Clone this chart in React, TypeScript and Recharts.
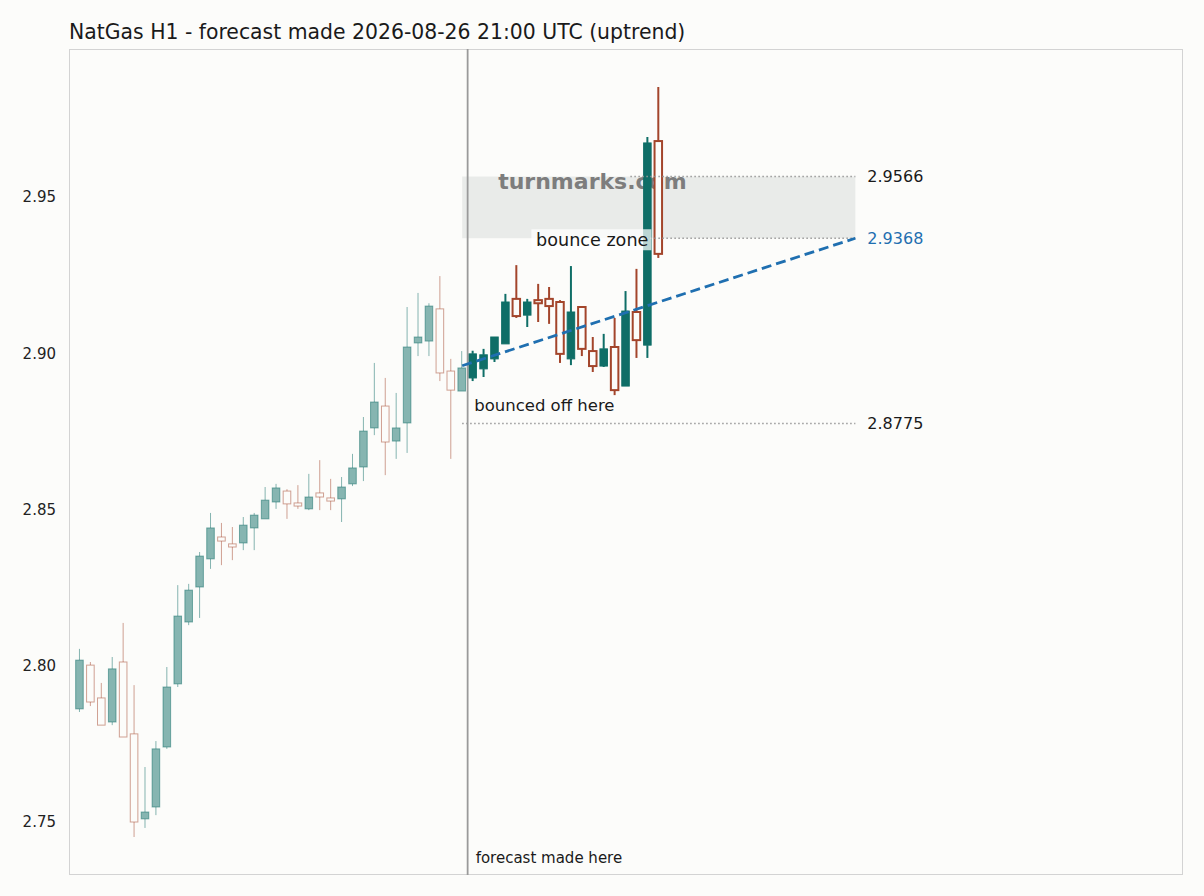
import React from 'react';
import { ComposedChart, Bar, Line, XAxis, YAxis, ReferenceLine, ReferenceArea, LabelList } from 'recharts';

// hourly candles, index 0..35 = history, 36..53 = forecast
const pastOpen = [2.7862, 2.8002, 2.7897, 2.782, 2.8012, 2.7782, 2.751, 2.7548, 2.774, 2.7942, 2.814, 2.8252, 2.8342, 2.8412, 2.839, 2.8393, 2.8441, 2.847, 2.8524, 2.8559, 2.8521, 2.8502, 2.8553, 2.8537, 2.8534, 2.8582, 2.8636, 2.8761, 2.8831, 2.8719, 2.8777, 2.9033, 2.9039, 2.9142, 2.8943, 2.8879];
const pastHigh = [2.8054, 2.8012, 2.7945, 2.8028, 2.8137, 2.7938, 2.7676, 2.7759, 2.7996, 2.8258, 2.8262, 2.8364, 2.8489, 2.8457, 2.8444, 2.8476, 2.8489, 2.8572, 2.8582, 2.8565, 2.8578, 2.8614, 2.8658, 2.8598, 2.8604, 2.8678, 2.8796, 2.8969, 2.8921, 2.8873, 2.9148, 2.9193, 2.916, 2.9247, 2.8982, 2.9007];
const pastLow = [2.7852, 2.7871, 2.781, 2.781, 2.7772, 2.7452, 2.7481, 2.7522, 2.7734, 2.7932, 2.813, 2.8153, 2.831, 2.8322, 2.8338, 2.837, 2.837, 2.847, 2.8502, 2.847, 2.8502, 2.8498, 2.8498, 2.8498, 2.846, 2.8575, 2.8591, 2.8738, 2.861, 2.8662, 2.8681, 2.8991, 2.8991, 2.8911, 2.8662, 2.8879];
const pastClose = [2.8018, 2.7884, 2.781, 2.799, 2.7772, 2.75, 2.7532, 2.7734, 2.7932, 2.8159, 2.8242, 2.8351, 2.8441, 2.8399, 2.838, 2.845, 2.8482, 2.853, 2.8569, 2.8518, 2.8511, 2.854, 2.854, 2.8527, 2.8572, 2.8633, 2.8751, 2.8844, 2.8716, 2.8761, 2.902, 2.9052, 2.9151, 2.8937, 2.8882, 2.8953];

const fcOpen = [2.8921, 2.895, 2.8982, 2.903, 2.9174, 2.9122, 2.917, 2.9174, 2.9164, 2.8982, 2.9148, 2.9007, 2.8959, 2.902, 2.8895, 2.9132, 2.9026, 2.9679];
const fcHigh = [2.9008, 2.9014, 2.9052, 2.919, 2.9282, 2.9174, 2.9222, 2.9212, 2.917, 2.9279, 2.9148, 2.9052, 2.9062, 2.9113, 2.9199, 2.927, 2.9692, 2.9852];
const fcLow = [2.8911, 2.8924, 2.8972, 2.903, 2.9113, 2.9084, 2.91, 2.9094, 2.8969, 2.8962, 2.8991, 2.894, 2.8956, 2.8866, 2.8895, 2.8985, 2.8985, 2.9305];
const fcClose = [2.8998, 2.8995, 2.9052, 2.9164, 2.9119, 2.9164, 2.916, 2.9151, 2.8998, 2.9132, 2.9014, 2.8959, 2.9014, 2.8882, 2.9135, 2.9042, 2.9673, 2.9318];

const forecastAt = 35.5;
const trendX = [35, 71];
const trendY = [2.896, 2.9368];
const zoneLow = 2.9368;
const zoneHigh = 2.9566;
const bounceLevel = 2.8775;
const breakoutIdx = 52; // candle the "bounce zone" tag is pinned to
const yTicks = [2.75, 2.8, 2.85, 2.9, 2.95];

const GREEN = '#0f6e67';
const RED = '#a3452b';
const BG = '#fcfcfa';
const FONT = '"DejaVu Sans", sans-serif';

const candles = [
  ...pastOpen.map((o, i) => ({ idx: i, open: o, high: pastHigh[i], low: pastLow[i], close: pastClose[i], fc: false })),
  ...fcOpen.map((o, i) => ({ idx: pastOpen.length + i, open: o, high: fcHigh[i], low: fcLow[i], close: fcClose[i], fc: true })),
].map((c) => ({ ...c, range: [c.low, c.high] }));

const trend = trendX.map((x, i) => ({ idx: x, value: trendY[i] }));

const Candle = (props: any) => {
  const { x, y, width, height, payload } = props;
  const { open, high, low, close, fc } = payload;
  const top = Math.min(y, y + height);
  const bottom = Math.max(y, y + height);
  const span = high - low;
  const px = (v: number) => (span === 0 ? top : top + ((high - v) / span) * (bottom - top));
  const cx = x + width / 2;
  const up = close >= open;
  const color = up ? GREEN : RED;
  const bTop = px(Math.max(open, close));
  const bBot = px(Math.min(open, close));
  const w = fc ? 7.5 : 7.6;
  const sw = fc ? 2 : 1;
  const op = fc ? 1 : 0.5;
  return (
    <g>
      <line x1={cx} x2={cx} y1={top} y2={bTop} stroke={color} strokeWidth={sw} strokeOpacity={op} />
      <line x1={cx} x2={cx} y1={bBot} y2={bottom} stroke={color} strokeWidth={sw} strokeOpacity={op} />
      <rect
        x={cx - w / 2}
        y={bTop}
        width={w}
        height={Math.max(bBot - bTop, 1)}
        fill={up ? color : BG}
        fillOpacity={up ? op : 1}
        stroke={color}
        strokeOpacity={op}
        strokeWidth={up ? 1 : sw}
      />
    </g>
  );
};

// "bounce zone" tag with its half-transparent box, drawn above the candles
const ZoneTag = (p: any) => {
  if (p.index !== breakoutIdx) return null;
  const c = candles[breakoutIdx];
  const top = Math.min(p.y, p.y + p.height);
  const bottom = Math.max(p.y, p.y + p.height);
  const zy = top + ((c.high - zoneLow) / (c.high - c.low)) * (bottom - top);
  const cx = p.x + p.width / 2 + 1;
  return (
    <g>
      <rect x={cx - 117} y={zy - 9} width={120} height={21} fill="#ffffff" fillOpacity={0.72} />
      <text x={cx} y={zy + 2} textAnchor="end" dominantBaseline="central" fontSize={17.6} fill="#1a1a1a" fontFamily={FONT}>
        bounce zone
      </text>
    </g>
  );
};

const rightLabel = (text: string, color: string) => (p: any) => {
  const vb = p.viewBox;
  return (
    <text x={vb.x + vb.width + 12} y={vb.y} dominantBaseline="central" fontSize={16} fill={color} fontFamily={FONT}>
      {text}
    </text>
  );
};

const dotted = { stroke: '#999999', strokeWidth: 1.5, strokeDasharray: '1.5 2.5' };

export default function App() {
  return (
    <div style={{ position: 'absolute', left: 0, top: 0, width: 1204, height: 896, background: BG, fontFamily: FONT }}>
      <div style={{ position: 'absolute', left: 69, top: 22, fontSize: 20.4, lineHeight: 1, color: '#1a1a1a', whiteSpace: 'nowrap' }}>
        NatGas H1 - forecast made 2026-08-26 21:00 UTC (uptrend)
      </div>
      <div style={{ position: 'absolute', left: 69, top: 49, width: 1114, height: 826, boxSizing: 'border-box', border: '1px solid #d3d3d3' }} />
      <ComposedChart width={1204} height={896} data={candles} margin={{ top: 49, right: 21, bottom: 21, left: 9 }} style={{ position: 'absolute', left: 0, top: 0 }}>
        <XAxis type="number" dataKey="idx" domain={[-1, 101]} allowDataOverflow hide />
        <YAxis
          type="number"
          domain={[2.73304, 2.99736]}
          allowDataOverflow
          ticks={yTicks}
          width={60}
          axisLine={false}
          tickLine={false}
          tickSize={6}
          tickMargin={7}
          tickFormatter={(v: number) => v.toFixed(2)}
          tick={{ fontSize: 15, fill: '#222', fontFamily: FONT }}
        />
        <ReferenceArea
          x1={trendX[0]}
          x2={trendX[1]}
          y1={zoneLow}
          y2={zoneHigh}
          fill="#e9ebe9"
          fillOpacity={1}
          stroke="none"
          label={(p: any) => (
            <text x={p.viewBox.x + 36} y={p.viewBox.y + 5} dominantBaseline="central" fontSize={22} fontWeight="bold" fill="#7d7d7d" fontFamily={FONT}>
              turnmarks.com
            </text>
          )}
        />
        <ReferenceLine
          segment={[{ x: 50.4, y: zoneHigh }, { x: trendX[1], y: zoneHigh }]}
          {...dotted}
          label={rightLabel(zoneHigh.toFixed(4), '#1a1a1a')}
        />
        <ReferenceLine
          segment={[{ x: 50.4, y: zoneLow }, { x: trendX[1], y: zoneLow }]}
          {...dotted}
          label={rightLabel(zoneLow.toFixed(4), '#1f6fb0')}
        />
        <ReferenceLine
          segment={[{ x: trendX[0], y: bounceLevel }, { x: trendX[1], y: bounceLevel }]}
          {...dotted}
          label={(p: any) => (
            <g>
              <text x={p.viewBox.x + p.viewBox.width + 12} y={p.viewBox.y} dominantBaseline="central" fontSize={16} fill="#1a1a1a" fontFamily={FONT}>
                {bounceLevel.toFixed(4)}
              </text>
              <text x={p.viewBox.x + 12} y={p.viewBox.y - 18} dominantBaseline="central" fontSize={16.5} fill="#1a1a1a" fontFamily={FONT}>
                bounced off here
              </text>
            </g>
          )}
        />
        <ReferenceLine
          x={forecastAt}
          stroke="#9a9a9a"
          strokeWidth={1.8}
          label={(p: any) => (
            <text x={p.viewBox.x + 8} y={p.viewBox.y + p.viewBox.height - 17} dominantBaseline="central" fontSize={15} fill="#1a1a1a" fontFamily={FONT}>
              forecast made here
            </text>
          )}
        />
        <Bar dataKey="range" shape={Candle} barSize={8} isAnimationActive={false}>
          <LabelList dataKey="close" content={ZoneTag} />
        </Bar>
        <Line data={trend} dataKey="value" stroke="#1f6fb0" strokeWidth={2.8} strokeDasharray="10 5" dot={false} isAnimationActive={false} />
      </ComposedChart>
    </div>
  );
}
